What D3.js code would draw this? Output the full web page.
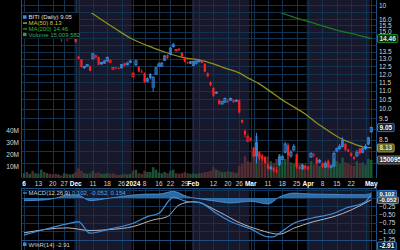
<!DOCTYPE html>
<html>
<head>
<meta charset="utf-8">
<script src="https://cdn.jsdelivr.net/npm/d3@7"></script>
<style>
  body { margin: 0; background: #000; }
  svg { display: block; font-family: "Liberation Sans", Arial, sans-serif; }
</style>
</head>
<body>
<svg id="chart"></svg>
<script>
// trading days shown on the chart
const dates = ("2023-11-06 2023-11-07 2023-11-08 2023-11-09 2023-11-10 2023-11-13 2023-11-14 2023-11-15 2023-11-16 2023-11-17 " +
  "2023-11-20 2023-11-21 2023-11-22 2023-11-24 2023-11-27 2023-11-28 2023-11-29 2023-11-30 " +
  "2023-12-01 2023-12-04 2023-12-05 2023-12-06 2023-12-07 2023-12-08 2023-12-11 2023-12-12 2023-12-13 2023-12-14 2023-12-15 " +
  "2023-12-18 2023-12-19 2023-12-20 2023-12-21 2023-12-22 2023-12-26 2023-12-27 2023-12-28 2023-12-29 " +
  "2024-01-02 2024-01-03 2024-01-04 2024-01-05 2024-01-08 2024-01-09 2024-01-10 2024-01-11 2024-01-12 2024-01-16 2024-01-17 " +
  "2024-01-18 2024-01-19 2024-01-22 2024-01-23 2024-01-24 2024-01-25 2024-01-26 2024-01-29 2024-01-30 2024-01-31 " +
  "2024-02-01 2024-02-02 2024-02-05 2024-02-06 2024-02-07 2024-02-08 2024-02-09 2024-02-12 2024-02-13 2024-02-14 2024-02-15 " +
  "2024-02-16 2024-02-20 2024-02-21 2024-02-22 2024-02-23 2024-02-26 2024-02-27 2024-02-28 2024-02-29 " +
  "2024-03-01 2024-03-04 2024-03-05 2024-03-06 2024-03-07 2024-03-08 2024-03-11 2024-03-12 2024-03-13 2024-03-14 2024-03-15 " +
  "2024-03-18 2024-03-19 2024-03-20 2024-03-21 2024-03-22 2024-03-25 2024-03-26 2024-03-27 2024-03-28 " +
  "2024-04-01 2024-04-02 2024-04-03 2024-04-04 2024-04-05 2024-04-08 2024-04-09 2024-04-10 2024-04-11 2024-04-12 " +
  "2024-04-15 2024-04-16 2024-04-17 2024-04-18 2024-04-19 2024-04-22 2024-04-23 2024-04-24 2024-04-25 2024-04-26 " +
  "2024-04-29 2024-04-30 2024-05-01").split(" ");

const open = [15.7,15.9,15.6,15.6,15.2,15.4,15.7,15.5,15.2,15.3,15.2,15.0,14.9,14.8,14.7,14.8,14.5,14.6,
  14.45,13.15,12.95,12.4,12.5,12.5,13.0,13.1,13.1,12.65,12.7,12.85,12.75,12.3,12.42,12.38,12.4,12.7,12.6,12.75,
  11.85,12.6,12.45,12.15,12.05,11.55,12.0,11.2,12.0,12.5,12.5,12.9,13.25,13.3,13.85,13.55,13.7,13.4,13.1,12.75,12.7,
  12.55,12.7,12.8,12.85,12.65,12.05,11.5,11.15,10.85,10.45,10.25,10.35,10.42,10.45,10.45,10.4,10.45,9.42,8.9,8.42,
  8.55,8.15,7.8,7.95,7.82,7.75,7.45,7.3,7.3,7.22,7.45,7.65,7.95,8.25,7.8,8.05,7.85,7.35,7.28,7.4,
  7.35,7.75,7.85,7.7,7.55,7.5,7.35,7.6,7.35,7.4,8.0,8.1,8.2,8.3,8.05,7.92,7.75,7.8,8.1,7.95,8.1,8.3,
  8.85];
const high = [16.0,16.0,15.9,15.7,15.5,15.7,16.2,15.6,15.5,15.4,15.3,15.1,15.1,14.9,15.0,14.9,14.7,14.8,
  14.5,13.2,12.98,12.5,12.65,12.55,13.4,13.28,13.15,12.8,12.9,13.15,12.95,12.45,12.45,12.42,12.65,12.75,12.8,12.95,
  12.15,12.95,12.5,12.3,12.1,11.8,12.05,11.85,12.45,12.75,12.8,13.25,13.3,13.85,14.15,13.7,13.75,13.45,13.15,12.8,12.85,
  12.85,12.88,12.95,12.9,12.7,12.1,11.55,11.2,10.95,10.5,10.4,10.6,10.5,10.6,10.5,10.5,10.5,9.45,8.95,8.72,
  8.6,8.18,8.8,8.0,7.88,7.8,7.5,7.42,7.35,7.35,7.85,7.82,8.4,8.35,8.05,8.3,7.9,7.4,7.48,7.45,
  7.38,7.95,7.92,7.75,7.68,7.55,7.6,7.65,7.45,8.0,8.15,8.3,8.6,8.35,8.1,7.95,7.8,8.05,8.13,8.15,8.3,8.62,
  9.1];
const low = [15.5,15.6,15.5,15.1,15.1,15.3,15.6,15.1,15.1,15.1,14.9,14.8,14.8,14.2,14.6,14.25,14.4,14.5,
  14.15,12.95,12.4,12.32,12.45,12.18,12.95,13.05,12.55,12.6,12.65,12.8,12.7,12.25,12.3,12.3,12.35,12.48,12.55,12.7,
  11.75,12.5,12.1,12.05,11.45,11.5,11.65,10.92,11.95,12.45,12.45,12.85,13.0,13.25,13.8,13.5,13.55,13.1,12.75,12.65,12.65,
  12.5,12.6,12.75,12.7,12.1,11.8,11.25,10.62,10.8,10.2,10.2,10.3,10.3,10.42,10.3,10.35,9.75,9.25,8.6,8.38,
  8.42,7.72,7.5,7.62,7.6,7.48,7.22,7.22,7.15,7.1,7.4,7.6,7.9,7.7,7.72,8.0,7.28,7.25,7.25,7.25,
  7.22,7.72,7.75,7.45,7.5,7.3,7.32,7.3,7.3,7.35,7.95,8.05,8.15,8.0,7.95,7.75,7.62,7.75,7.85,7.9,8.05,8.25,
  8.8];
const close = [15.9,15.7,15.8,15.2,15.4,15.6,16.1,15.2,15.4,15.2,15.1,14.9,15.0,14.6,14.9,14.5,14.6,14.7,
  14.2,13.0,12.45,12.48,12.6,12.2,13.35,13.2,12.6,12.75,12.85,13.1,12.9,12.42,12.38,12.35,12.6,12.52,12.7,12.85,
  12.05,12.85,12.15,12.1,11.5,11.7,11.75,11.8,12.4,12.65,12.7,13.2,13.05,13.75,14.0,13.65,13.6,13.15,12.8,12.7,12.8,
  12.82,12.85,12.9,12.72,12.15,11.85,11.3,10.7,10.9,10.25,10.38,10.55,10.38,10.55,10.35,10.45,9.8,9.3,8.72,8.62,
  8.48,7.78,8.35,7.7,7.65,7.52,7.3,7.35,7.22,7.18,7.75,7.78,8.3,7.8,7.95,8.2,7.35,7.3,7.42,7.3,
  7.28,7.9,7.82,7.5,7.62,7.35,7.5,7.35,7.4,7.9,8.1,8.2,8.45,8.05,7.98,7.8,7.68,7.95,7.9,8.1,8.2,8.58,
  9.05];
// volume, millions of shares
const volume = [4,5,3.5,6,4,3.5,7,5,4,3.5,3,3.5,3,2,4,3.5,3,3.5,
  5,8,6,4,3.5,4,6,4,4.5,3.5,3.5,4,3.5,4,3,2.5,3,3.5,3,3.5,
  6,7,4,3.5,6,5,5,9,7,4.5,4,5,4,6,7,4,3.5,4,5,4,3.5,
  4,3.5,4,4,5,5,6,9,7,6,5,5,6,5,5,4,10,12,18,14,
  13,22,35,20,15,14,18,14,12,16,20,14,16,18,13,12,16,12,12,11,
  10,14,11,12,10,11,12,13,10,16,14,12,17,13,12,11,10,14,12,13,11,16,
  15.009582];

// moving averages (index into dates, value)
const ma50Idx = [18,25,32,37,45,50,56,61,66,70,75,78,82,86,90,94,98,102,106,110,114,118,121];
const ma50 = [17.5,16.3,15.2,14.5,13.77,13.4,13.06,12.92,12.65,12.38,12.07,11.76,11.39,10.92,10.47,10.09,9.72,9.27,8.9,8.57,8.35,8.18,8.13];
const ma200Idx = [88,95,102,110,116,121];
const ma200 = [16.7,16.1,15.6,15.05,14.75,14.46];

// MACD(12,26,9) panel
const macdIdx = [0,7,15,19,23,30,38,43,47,52,57,61,67,72,79,85,87,89,94,100,108,112,119,121];
const macd = [-1.12,-0.95,-0.78,-0.72,-1.06,-0.93,-0.76,-0.56,-0.46,0.02,-0.11,-0.13,-0.46,-0.71,-0.93,-1.17,-1.17,-1.06,-0.76,-0.61,-0.46,-0.31,-0.11,0.102];
const signalIdx = [0,15,23,30,38,45,50,54,59,68,75,82,89,94,101,108,114,121];
const signal = [-1.05,-0.9,-0.98,-0.95,-0.86,-0.66,-0.56,-0.21,-0.11,-0.42,-0.74,-0.96,-1.09,-0.91,-0.71,-0.56,-0.36,-0.052];
const histIdx = [0,7,12,15,19,23,30,38,43,47,52,57,61,67,72,79,85,89,94,100,108,112,119,121];
const hist = [-0.08,-0.06,0.02,0.1,0.08,-0.08,0.0,0.09,0.12,0.12,0.2,0.04,-0.02,-0.1,-0.15,-0.1,-0.18,0.03,0.15,0.12,0.11,0.1,0.1,0.154];

const priceTicks = [7.5,8.0,8.5,9.0,9.5,10.0,10.5,11.0,11.5,12.0,12.5,13.0,13.5,14.0,14.5,15.0,15.5,16.0];
const volTicks = [10,20,30,40];
const macdTicks = [0.25,-0.25,-0.5,-0.75,-1.0,-1.25];
const weekLabels = {"2023-11-06":"6","2023-11-13":"13","2023-11-20":"20","2023-11-27":"27","2023-12-01":"Dec",
  "2023-12-11":"11","2023-12-18":"18","2023-12-26":"26","2024-01-02":"2024","2024-01-08":"8","2024-01-16":"16",
  "2024-01-22":"22","2024-01-29":"29","2024-02-01":"Feb","2024-02-12":"12","2024-02-20":"20","2024-02-26":"26",
  "2024-03-01":"Mar","2024-03-11":"11","2024-03-18":"18","2024-03-25":"25","2024-04-01":"Apr","2024-04-08":"8",
  "2024-04-15":"15","2024-04-22":"22","2024-05-01":"May"};
const monthStarts = ["2023-11-06","2023-12-01","2024-01-02","2024-02-01","2024-03-01","2024-04-01","2024-05-01"];
const gridDates = Object.keys(weekLabels).concat(["2023-12-04","2024-02-05","2024-03-04","2024-04-29"]);

const W = 400, H = 250;
const left = 21, right = 376;
const topPanel = 12.5, mainBottom = 178;
const macdTop = 188, macdBottom = 240, wprBottom = 262;

const svg = d3.select("#chart").attr("width", W).attr("height", H);
svg.append("rect").attr("width", W).attr("height", H).attr("fill", "#000");

const x = d3.scaleBand().domain(dates).range([22.6, 372.7]).padding(0);
const cx = d => x(d) + x.bandwidth() / 2;
const y = d3.scaleLog().domain([7.5, 16]).range([163.3, 19.3]);
const yVol = d3.scaleLinear().domain([0, 40]).range([mainBottom, 130]);
const yMacd = d3.scaleLinear().domain([-1.25, 0.25]).range([239.5, 189.7]);

// month shading
const shade = svg.append("g");
monthStarts.forEach((m, k) => {
  const x0 = k === 0 ? left : x(m);
  const x1 = k === monthStarts.length - 1 ? right : x(monthStarts[k + 1]);
  if (k % 2 === 1) {
    [[0, mainBottom], [macdTop, wprBottom]].forEach(([a, b]) => {
      shade.append("rect").attr("x", x0).attr("y", a).attr("width", x1 - x0).attr("height", b - a)
        .attr("fill", "#17182c");
    });
  }
});

// grid
const grid = svg.append("g").attr("stroke", "#12324f").attr("stroke-width", 1);
gridDates.forEach(d => {
  const gx = Math.round(cx(d)) + 0.5;
  grid.append("line").attr("x1", gx).attr("x2", gx).attr("y1", 0).attr("y2", mainBottom);
  grid.append("line").attr("x1", gx).attr("x2", gx).attr("y1", macdTop).attr("y2", wprBottom);
});
priceTicks.forEach(p => {
  const gy = Math.round(y(p)) + 0.5;
  grid.append("line").attr("x1", left).attr("x2", right).attr("y1", gy).attr("y2", gy);
});
[5.5, topPanel].forEach(gy => grid.append("line").attr("x1", left).attr("x2", right).attr("y1", gy).attr("y2", gy));
macdTicks.concat([0]).forEach(v => {
  const gy = Math.round(yMacd(v)) + 0.5;
  grid.append("line").attr("x1", left).attr("x2", right).attr("y1", gy).attr("y2", gy);
});

// panel borders
const border = svg.append("g").attr("stroke", "#1f4f80").attr("fill", "none");
[[0, mainBottom], [macdTop, wprBottom]].forEach(([a, b]) => {
  border.append("line").attr("x1", left + 0.5).attr("x2", left + 0.5).attr("y1", a).attr("y2", b);
  border.append("line").attr("x1", right + 0.5).attr("x2", right + 0.5).attr("y1", a).attr("y2", b);
});
[macdTop + 0.5, macdBottom + 0.5].forEach(by => {
  border.append("line").attr("x1", left).attr("x2", right).attr("y1", by).attr("y2", by);
});

// clips
svg.append("clipPath").attr("id", "clipMain").append("rect")
  .attr("x", left + 1).attr("y", topPanel + 0.5).attr("width", right - left - 1).attr("height", mainBottom - topPanel - 0.5);
svg.append("clipPath").attr("id", "clipMacd").append("rect")
  .attr("x", left + 1).attr("y", macdTop + 1).attr("width", right - left - 1).attr("height", macdBottom - macdTop - 1);

const main = svg.append("g").attr("clip-path", "url(#clipMain)");
const rows = dates.map((d, i) => ({ d, i, o: open[i], h: high[i], l: low[i], c: close[i], v: volume[i],
  up: i === 0 ? true : close[i] >= close[i - 1] }));

// volume bars
main.append("g").selectAll("rect").data(rows).join("rect")
  .attr("x", r => x(r.d) + 0.2)
  .attr("width", x.bandwidth() - 0.4)
  .attr("y", r => yVol(r.v))
  .attr("height", r => yVol(0) - yVol(r.v))
  .attr("fill", r => r.up ? "#1f5a3b" : "#5a3034")
  .attr("opacity", 0.9);

// moving averages
const line = d3.line().x(p => cx(dates[p[0]])).y(p => y(p[1])).curve(d3.curveMonotoneX);
main.append("path").datum(ma50Idx.map((k, j) => [k, ma50[j]]))
  .attr("d", line).attr("fill", "none").attr("stroke", "#8f8f1e").attr("stroke-width", 1.3);
main.append("path").datum(ma200Idx.map((k, j) => [k, ma200[j]]))
  .attr("d", line).attr("fill", "none").attr("stroke", "#1f7a1f").attr("stroke-width", 1.3);

// candles
const candle = main.append("g").selectAll("g").data(rows).join("g");
candle.append("line")
  .attr("x1", r => cx(r.d)).attr("x2", r => cx(r.d))
  .attr("y1", r => y(r.h)).attr("y2", r => y(r.l))
  .attr("stroke", r => r.up ? "#3a8ee6" : "#ff2020").attr("stroke-width", 0.9);
candle.append("rect")
  .attr("x", r => cx(r.d) - 1.1)
  .attr("width", 2.2)
  .attr("y", r => y(Math.max(r.o, r.c)))
  .attr("height", r => Math.max(0.8, Math.abs(y(r.o) - y(r.c))))
  .attr("fill", r => r.c >= r.o ? "none" : (r.up ? "#3a8ee6" : "#ff2020"))
  .attr("stroke", r => r.up ? "#3a8ee6" : "#ff2020")
  .attr("stroke-width", r => r.c >= r.o ? 0.8 : 0);

// MACD panel
const macdG = svg.append("g").attr("clip-path", "url(#clipMacd)");
const histArea = d3.area().x(p => cx(dates[p[0]])).y0(yMacd(0)).y1(p => yMacd(p[1])).curve(d3.curveMonotoneX);
const histPts = histIdx.map((k, j) => [k, hist[j]]);
macdG.append("path").datum(histPts).attr("d", histArea).attr("fill", "#3075b2").attr("opacity", 0.9);
macdG.append("path").datum(histPts).attr("d", histArea.lineY1()).attr("fill", "none")
  .attr("stroke", "#5aa2e6").attr("stroke-width", 0.7);
const mLine = d3.line().x(p => cx(dates[p[0]])).y(p => yMacd(p[1])).curve(d3.curveMonotoneX);
macdG.append("path").datum(signalIdx.map((k, j) => [k, signal[j]]))
  .attr("d", mLine).attr("fill", "none").attr("stroke", "#b8b8c0").attr("stroke-width", 1);
macdG.append("path").datum(macdIdx.map((k, j) => [k, macd[j]]))
  .attr("d", mLine).attr("fill", "none").attr("stroke", "#3a90e0").attr("stroke-width", 1.2);

// axes
const fontSize = 6.5;
function styleAxis(g, color) {
  g.select(".domain").remove();
  g.selectAll("line").remove();
  g.selectAll("text").attr("fill", color).attr("font-size", fontSize)
    .attr("font-family", "Liberation Sans, Arial, sans-serif");
}
const boxY = [y(14.46), y(9.05), y(8.13), yVol(15.009582)];
const shownPrice = priceTicks.filter(p => boxY.every(b => Math.abs(y(p) - b) > 6.5));
svg.append("g").attr("transform", `translate(${right + 1},0)`)
  .call(d3.axisRight(y).tickValues(shownPrice).tickFormat(d3.format(".1f")).tickSize(0).tickPadding(2))
  .call(g => styleAxis(g, "#d8d8d8"));
svg.append("text").attr("x", right + 3).attr("y", 5.5).attr("dy", "0.35em")
  .attr("font-size", fontSize).attr("fill", "#d8d8d8").text("10");
svg.append("g").attr("transform", `translate(${left - 1},0)`)
  .call(d3.axisLeft(yVol).tickValues(volTicks).tickFormat(d => d + "M").tickSize(0).tickPadding(1))
  .call(g => styleAxis(g, "#d8d8d8"));
const shownMacd = macdTicks.filter(v => Math.abs(yMacd(v) - yMacd(0.102)) > 5 && Math.abs(yMacd(v) - yMacd(-0.052)) > 5);
svg.append("g").attr("transform", `translate(${right + 1},0)`)
  .call(d3.axisRight(yMacd).tickValues(shownMacd).tickFormat(d3.format(".2f")).tickSize(0).tickPadding(2))
  .call(g => styleAxis(g, "#d8d8d8"));
const dateAxis = svg.append("g").attr("transform", `translate(0,${mainBottom})`)
  .call(d3.axisBottom(x).tickValues(Object.keys(weekLabels)).tickFormat(d => weekLabels[d]).tickSize(0).tickPadding(3))
  .call(g => styleAxis(g, "#d0d0d0"));
dateAxis.selectAll("text").filter(d => monthStarts.includes(d))
  .attr("font-weight", "bold").attr("fill", "#ffffff");

// value boxes on the right
function box(yPos, label, stroke, fill, color, hgt = 8, fs = fontSize) {
  const g = svg.append("g").attr("transform", `translate(${right + 1},${yPos})`);
  const t = g.append("text").attr("x", 2.5).attr("dy", "0.35em").attr("font-size", fs)
    .attr("fill", color).attr("font-weight", "bold").text(label);
  const w = t.node().getComputedTextLength();
  g.insert("rect", "text").attr("x", 0.5).attr("y", -hgt / 2).attr("width", w + 4).attr("height", hgt)
    .attr("rx", 1).attr("fill", fill).attr("stroke", stroke).attr("stroke-width", 0.8);
}
box(y(14.46), "14.46", "#2e9a2e", "#0d2a0d", "#d8f0d8");
box(y(9.05), "9.05", "#3a8ee6", "#0b1d33", "#ffffff");
box(y(8.13), "8.13", "#b8b83a", "#5a5a20", "#e8e8c0");
box(yVol(15.009582), "15009582", "#8a8a8a", "#303030", "#ffffff");
box(yMacd(0.102) - 1, "0.102", "#3a8ee6", "#1d4f80", "#ffffff", 6.4, 6);
box(yMacd(-0.052) + 0.6, "-0.052", "#a0a0a0", "#404048", "#ffffff", 6.4, 6);
box(246, "-2.91", "#3a8ee6", "#0b1d33", "#ffffff");

// legend
const leg = svg.append("g").attr("font-size", 6);
leg.append("rect").attr("x", left + 1).attr("y", 13).attr("width", 57).attr("height", 25.5).attr("fill", "#000");
const legRows = [
  ["BITI (Daily) 9.05", "#e0e0e0", "#3a8ee6"],
  ["MA(50) 8.13", "#c8c83c", "#b8b83a"],
  ["MA(200) 14.46", "#3cb43c", "#2e9a2e"],
  ["Volume 15,009,582", "#3caa64", "#2e9a55"]
];
legRows.forEach(([txt, col, ic], k) => {
  const ly = 17.3 + k * 5.8;
  if (k === 0 || k === 3) {
    leg.append("rect").attr("x", 23).attr("y", ly - 2).attr("width", 3.5).attr("height", 3.5).attr("fill", ic);
  } else {
    leg.append("line").attr("x1", 23).attr("x2", 27).attr("y1", ly).attr("y2", ly).attr("stroke", ic).attr("stroke-width", 1.3);
  }
  leg.append("text").attr("x", 28.5).attr("y", ly).attr("dy", "0.35em").attr("fill", col).text(txt);
});

// MACD legend
const ml = svg.append("g").attr("font-size", 6);
ml.append("line").attr("x1", 23).attr("x2", 27).attr("y1", 193).attr("y2", 193).attr("stroke", "#3a90e0").attr("stroke-width", 1.3);
const mt = ml.append("text").attr("x", 28.5).attr("y", 193).attr("dy", "0.35em");
mt.append("tspan").attr("fill", "#d0d0d0").text("MACD(12,26,9) ");
mt.append("tspan").attr("fill", "#5aa8f0").text("0.102, -0.052, 0.154");

// Williams %R legend
const wl = svg.append("g").attr("font-size", 6);
wl.append("rect").attr("x", 23).attr("y", 242.5).attr("width", 3.5).attr("height", 3.5).attr("fill", "#3a8ee6");
const wt = wl.append("text").attr("x", 28.5).attr("y", 244.5).attr("dy", "0.35em");
wt.append("tspan").attr("fill", "#d0d0d0").text("W%R(14) ");
wt.append("tspan").attr("fill", "#d0d0d0").text("-2.91");
</script>
</body>
</html>
